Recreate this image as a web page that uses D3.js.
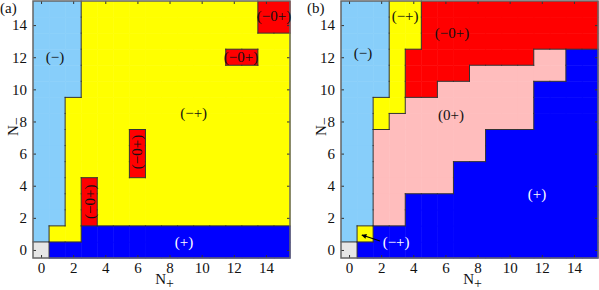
<!DOCTYPE html>
<html>
<head>
<meta charset="utf-8">
<script src="https://cdn.jsdelivr.net/npm/d3@7"></script>
<style>
  body { margin: 0; background: #fff; }
  svg text { font-family: "Liberation Serif", "DejaVu Serif", serif; }
</style>
</head>
<body>
<svg id="chart" width="599" height="290" font-family="Liberation Serif"></svg>
<script>
// region codes: G none, L (−), Y (−+), R (−0+), B (+), P (0+)
// rows go from N- = 15 (first string) down to N- = 0, columns N+ = 0..15
var gridA = [
  "LLLYYYYYYYYYYYRR",
  "LLLYYYYYYYYYYYRR",
  "LLLYYYYYYYYYYYYY",
  "LLLYYYYYYYYYRRYY",
  "LLLYYYYYYYYYYYYY",
  "LLLYYYYYYYYYYYYY",
  "LLYYYYYYYYYYYYYY",
  "LLYYYYYYYYYYYYYY",
  "LLYYYYRYYYYYYYYY",
  "LLYYYYRYYYYYYYYY",
  "LLYYYYRYYYYYYYYY",
  "LLYRYYYYYYYYYYYY",
  "LLYRYYYYYYYYYYYY",
  "LLYRYYYYYYYYYYYY",
  "LYYBBBBBBBBBBBBB",
  "GBBBBBBBBBBBBBBB"
];
var gridB = [
  "LLLYYRRRRRRRRRRR",
  "LLLYYRRRRRRRRRRR",
  "LLLYYRRRRRRRRRRR",
  "LLLYRRRRRRRRPPBB",
  "LLLYRRRRPPPPPPBB",
  "LLLYRRPPPPPPBBBB",
  "LLYYPPPPPPPPBBBB",
  "LLYPPPPPPPPPBBBB",
  "LLPPPPPPPBBBBBBB",
  "LLPPPPPPPBBBBBBB",
  "LLPPPPPBBBBBBBBB",
  "LLPPPPPBBBBBBBBB",
  "LLPPBBBBBBBBBBBB",
  "LLPPBBBBBBBBBBBB",
  "LYBBBBBBBBBBBBBB",
  "GBBBBBBBBBBBBBBB"
];

var regionCodes = ["G", "L", "Y", "R", "B", "P"];
var regionColors = ["#e6e6e6", "#87cefa", "#ffff00", "#ff0000", "#0000ff", "#ffbdbd"];

var ticks = [0, 2, 4, 6, 8, 10, 12, 14];

// labels: [N+, N-, text, rotation, colour]
var labelsA = [
  [0.87, 12.0, "(−)", 0, "#111"],
  [9.5, 8.5, "(−+)", 0, "#111"],
  [8.9, 0.5, "(+)", 0, "#fff"],
  [3.05, 3.0, "(−0+)", -90, "#111"],
  [6.0, 6.1, "(−0+)", -90, "#111"],
  [12.45, 12.0, "(−0+)", 0, "#111"],
  [14.5, 14.55, "(−0+)", 0, "#111"]
];
var labelsB = [
  [0.87, 12.25, "(−)", 0, "#111"],
  [3.49, 14.56, "(−+)", 0, "#111"],
  [6.41, 13.5, "(−0+)", 0, "#111"],
  [6.35, 8.4, "(0+)", 0, "#111"],
  [11.7, 3.48, "(+)", 0, "#fff"],
  [2.93, 0.5, "(−+)", 0, "#fff"]
];
// arrow in panel b: from [N+, N-] to [N+, N-]
var arrowB = [[1.93, 0.56], [0.8, 0.93]];

var FONT = "Liberation Serif";
var svg = d3.select("#chart");
svg.append("defs").append("marker")
  .attr("id", "head")
  .attr("viewBox", "0 0 10 10")
  .attr("refX", 9).attr("refY", 5)
  .attr("markerWidth", 6).attr("markerHeight", 5)
  .attr("markerUnits", "userSpaceOnUse")
  .attr("orient", "auto")
  .append("path").attr("d", "M0,0L10,5L0,10z").attr("fill", "#000");

var colour = d3.scaleOrdinal().domain(regionCodes).range(regionColors);

function drawPanel(left, grid, labels, tag, tagX, arrow) {
  var x = d3.scaleLinear().domain([-0.5, 15.5]).range([left, left + 257]);
  var y = d3.scaleLinear().domain([-0.5, 15.5]).range([258, 1]);
  var g = svg.append("g");

  // cells
  var cells = [];
  grid.forEach(function (row, r) {
    row.split("").forEach(function (c, i) {
      cells.push({ np: i, nm: 15 - r, code: c });
    });
  });
  g.selectAll("rect.cell").data(cells).enter().append("rect")
    .attr("class", "cell")
    .attr("x", function (d) { return x(d.np - 0.5); })
    .attr("y", function (d) { return y(d.nm + 0.5); })
    .attr("width", function (d) { return x(d.np + 0.5) - x(d.np - 0.5) + 0.5; })
    .attr("height", function (d) { return y(d.nm - 0.5) - y(d.nm + 0.5) + 0.5; })
    .attr("fill", function (d) { return colour(d.code); });

  // region boundaries
  var code = function (i, j) { return grid[15 - j][i]; };
  var segs = [];
  for (var i = 0; i < 16; i++) {
    for (var j = 0; j < 16; j++) {
      if (i < 15 && code(i, j) !== code(i + 1, j)) segs.push([i + 0.5, j - 0.5, i + 0.5, j + 0.5]);
      if (j < 15 && code(i, j) !== code(i, j + 1)) segs.push([i - 0.5, j + 0.5, i + 0.5, j + 0.5]);
    }
  }
  g.selectAll("line.edge").data(segs).enter().append("line")
    .attr("x1", function (d) { return x(d[0]); })
    .attr("y1", function (d) { return y(d[1]); })
    .attr("x2", function (d) { return x(d[2]); })
    .attr("y2", function (d) { return y(d[3]); })
    .attr("stroke", "#333").attr("stroke-width", 1)
    .attr("stroke-linecap", "square");

  // axes with inward ticks
  var axB = d3.axisBottom(x).tickValues(ticks).tickSize(-3).tickPadding(4);
  var axT = d3.axisTop(x).tickValues(ticks).tickSize(-3).tickFormat("");
  var axL = d3.axisLeft(y).tickValues(ticks).tickSize(-3).tickPadding(6);
  var axR = d3.axisRight(y).tickValues(ticks).tickSize(-3).tickFormat("");
  [[axB, "translate(0,258)"], [axT, "translate(0,1)"], [axL, "translate(" + left + ",0)"], [axR, "translate(" + (left + 257) + ",0)"]]
    .forEach(function (a) {
      var ag = g.append("g").attr("transform", a[1]).call(a[0])
        .attr("font-family", FONT).attr("font-size", 15);
      ag.select(".domain").remove();
      ag.selectAll("line").attr("stroke", "#333");
      ag.selectAll("text").attr("fill", "#111");
    });

  // frame
  g.append("rect")
    .attr("x", left).attr("y", 1).attr("width", 257).attr("height", 257)
    .attr("fill", "none").attr("stroke", "#666").attr("stroke-width", 1.5);

  // region labels
  labels.forEach(function (l) {
    g.append("text")
      .attr("transform", "translate(" + x(l[0]) + "," + y(l[1]) + ") rotate(" + l[3] + ")")
      .attr("text-anchor", "middle").attr("dy", "0.33em")
      .attr("font-family", FONT)
      .attr("font-size", 15).attr("fill", l[4])
      .text(l[2]);
  });

  if (arrow) {
    g.append("line")
      .attr("x1", x(arrow[0][0])).attr("y1", y(arrow[0][1]))
      .attr("x2", x(arrow[1][0])).attr("y2", y(arrow[1][1]))
      .attr("stroke", "#000").attr("stroke-width", 1.2)
      .attr("marker-end", "url(#head)");
  }

  // panel tag
  svg.append("text").attr("x", tagX).attr("y", 13).attr("font-size", 15)
    .attr("font-family", FONT).attr("fill", "#111").text(tag);

  // axis titles
  var xt = svg.append("text").attr("x", x(7.5) + 3).attr("y", 284)
    .attr("text-anchor", "middle").attr("font-size", 15)
    .attr("font-family", FONT).attr("fill", "#111");
  xt.append("tspan").text("N");
  xt.append("tspan").attr("dy", 4).attr("font-size", 14).text("+");

  var yt = svg.append("text")
    .attr("transform", "translate(" + (left - 15) + "," + (y(7.5) - 3) + ") rotate(-90)")
    .attr("text-anchor", "middle").attr("font-size", 15)
    .attr("font-family", FONT).attr("fill", "#111");
  yt.append("tspan").text("N");
  yt.append("tspan").attr("dy", 3).attr("font-size", 14).text("−");
}

drawPanel(33, gridA, labelsA, "(a)", 0, null);
drawPanel(341, gridB, labelsB, "(b)", 307, arrowB);
</script>
</body>
</html>
